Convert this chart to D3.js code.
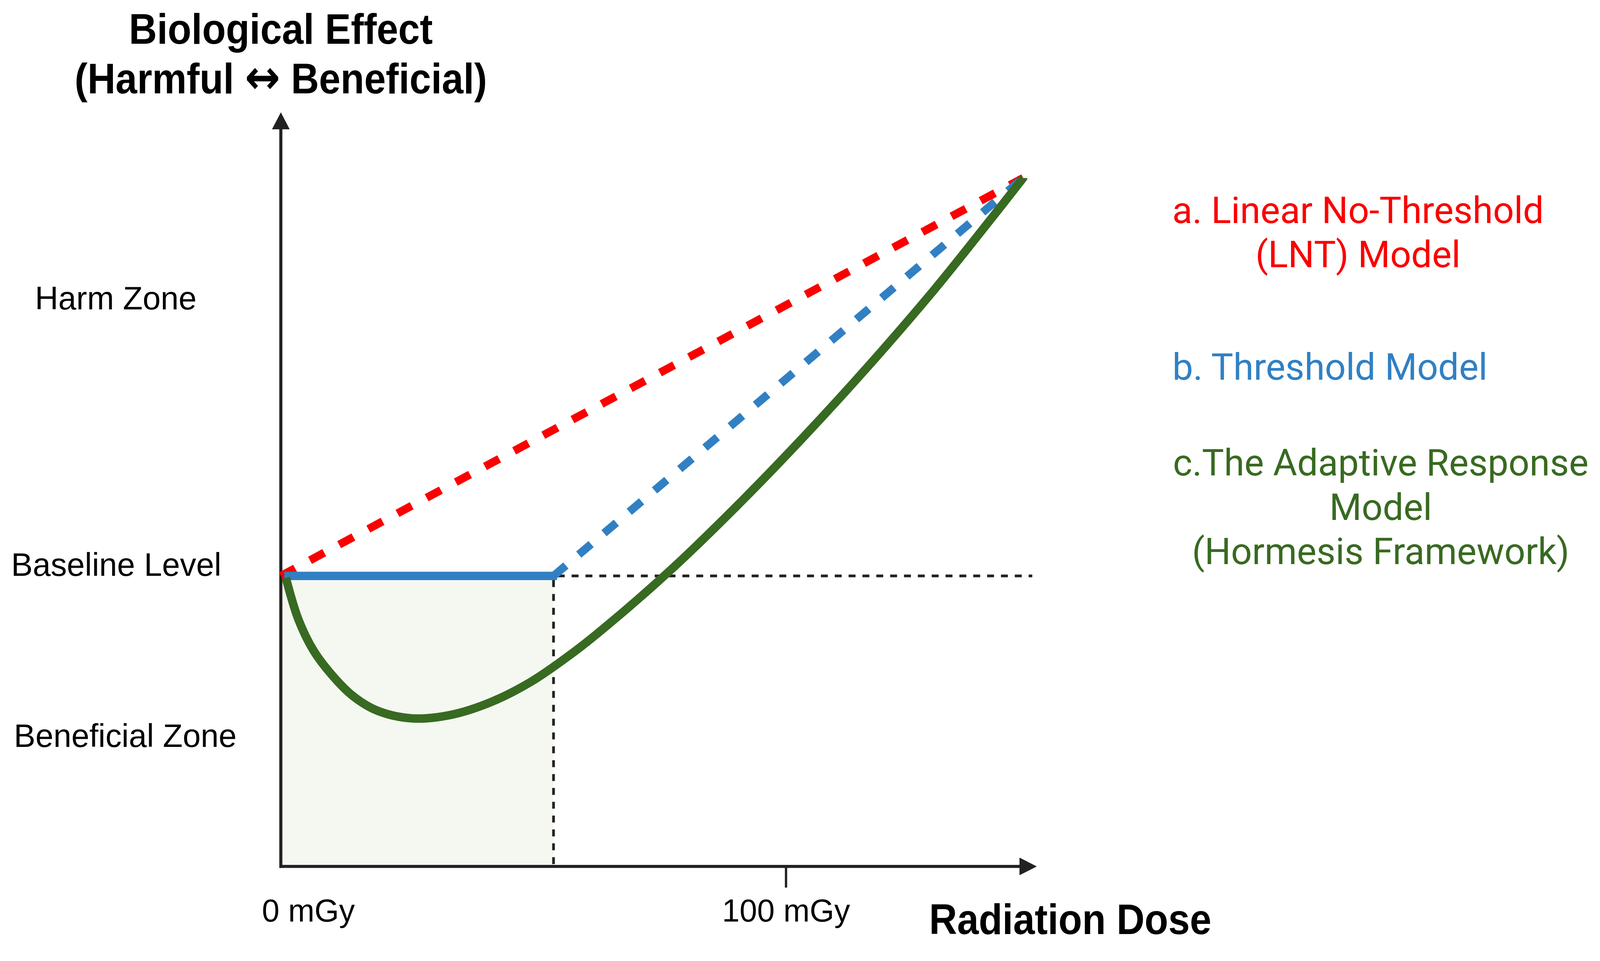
<!DOCTYPE html>
<html>
<head>
<meta charset="utf-8">
<script src="https://cdn.jsdelivr.net/npm/d3@7"></script>
<style>
  html, body { margin: 0; padding: 0; background: #fff; width: 100%; height: 100%; overflow: hidden; }
  svg { display: block; width: 100vw; height: 100vh; }
</style>
</head>
<body>
<svg viewBox="0 0 4159 2460" preserveAspectRatio="xMidYMin meet"></svg>
<script>
// dose-response models, dose in mGy, effect in arbitrary units (0 = baseline, 100 = meeting point)
var lntDose = [0, 147];
var lntEffect = [0, 100];

var thresholdDose = [0, 54, 147];
var thresholdEffect = [0, 0, 100];

var hormesisDose = [1, 3.5, 6.5, 10.4, 14.3, 19, 26, 33.7, 41.6, 49.4, 57.1, 64.1, 77.2, 90.4, 103.5, 116.6, 129.7, 142.8, 147];
var hormesisEffect = [-0.5, -11, -18.8, -25.3, -30.2, -33.8, -35.8, -34.9, -31.7, -26.7, -20, -13, 1.5, 17.7, 34.9, 53.1, 72.4, 93.2, 100];

var tickDoses = [0, 100];
var tickLabels = ['0 mGy', '100 mGy'];

var zoneLabels = ['Harm Zone', 'Baseline Level', 'Beneficial Zone'];
var zoneEffects = [67, 0, -43];

var legendLines = [
	['a. Linear No-Threshold', '(LNT) Model'],
	['b. Threshold Model'],
	['c.The Adaptive Response', 'Model', '(Hormesis Framework)']
];
var legendColors = ['#fa0000', '#3180c3', '#386a21'];

function main() {
	var svg = d3.select('svg');

	var x = d3.scaleLinear().domain([0, 150]).range([730, 2699]);
	var y = d3.scaleLinear().domain([-73, 116.5]).range([2252, 292]);

	var line = d3.line()
		.x(function(d){ return x(d[0]); })
		.y(function(d){ return y(d[1]); });
	var smooth = d3.line()
		.curve(d3.curveCatmullRom.alpha(0.5))
		.x(function(d){ return x(d[0]); })
		.y(function(d){ return y(d[1]); });

	var lnt = d3.zip(lntDose, lntEffect);
	var thr = d3.zip(thresholdDose, thresholdEffect);
	var horm = d3.zip(hormesisDose, hormesisEffect);

	var thresholdX = thresholdDose[1];

	// shaded low-dose region
	svg.append('rect')
		.attr('x', x(0) + 4)
		.attr('y', y(0))
		.attr('width', x(thresholdX) - x(0) - 4)
		.attr('height', y.range()[0] - y(0))
		.attr('fill', '#f4f8f0');

	// reference dashes: threshold and baseline
	svg.append('line')
		.attr('x1', x(thresholdX)).attr('x2', x(thresholdX))
		.attr('y1', y(0) + 11).attr('y2', y.range()[0])
		.attr('stroke', '#222').attr('stroke-width', 7)
		.attr('stroke-dasharray', '18,18');
	svg.append('line')
		.attr('x1', x(thresholdX) + 11).attr('x2', x(148.8))
		.attr('y1', y(0)).attr('y2', y(0))
		.attr('stroke', '#222').attr('stroke-width', 7)
		.attr('stroke-dasharray', '18,18');

	// axes
	var x0 = x(0), yBase = y.range()[0], yTop = y.range()[1], xEnd = x.range()[1] - 4;
	svg.append('line')
		.attr('x1', x0).attr('x2', x0)
		.attr('y1', yBase + 4).attr('y2', yTop + 40)
		.attr('stroke', '#222').attr('stroke-width', 8);
	svg.append('path')
		.attr('d', 'M' + x0 + ',' + yTop + 'L' + (x0 - 23) + ',' + (yTop + 44) + 'L' + (x0 + 23) + ',' + (yTop + 44) + 'Z')
		.attr('fill', '#222');
	svg.append('line')
		.attr('x1', x0 - 4).attr('x2', xEnd - 40)
		.attr('y1', yBase).attr('y2', yBase)
		.attr('stroke', '#222').attr('stroke-width', 8);
	svg.append('path')
		.attr('d', 'M' + xEnd + ',' + yBase + 'L' + (xEnd - 45) + ',' + (yBase - 23) + 'L' + (xEnd - 45) + ',' + (yBase + 23) + 'Z')
		.attr('fill', '#222');

	var xAxis = d3.axisBottom(x)
		.tickValues(tickDoses)
		.tickSize(55)
		.tickPadding(30)
		.tickFormat(function(d, i){ return tickLabels[i]; });
	var ax = svg.append('g')
		.attr('transform', 'translate(0,' + yBase + ')')
		.call(xAxis);
	ax.select('.domain').remove();
	ax.selectAll('.tick line').attr('stroke', '#222').attr('stroke-width', 6)
		.attr('display', function(d){ return d === 0 ? 'none' : null; });
	ax.selectAll('.tick text')
		.attr('fill', '#000')
		.attr('font-family', '"Liberation Sans", Arial, sans-serif')
		.attr('font-size', 82)
		.attr('dx', function(d){ return d === 0 ? 71 : 0; });

	// model curves
	svg.append('path')
		.attr('d', line(lnt))
		.attr('fill', 'none').attr('stroke', legendColors[0])
		.attr('stroke-width', 21).attr('stroke-dasharray', '42,44');
	svg.append('path')
		.attr('d', line(thr.slice(0, 2)))
		.attr('transform', 'translate(9,0)')
		.attr('fill', 'none').attr('stroke', legendColors[1])
		.attr('stroke-width', 22);
	svg.append('path')
		.attr('d', line(thr.slice(1)))
		.attr('fill', 'none').attr('stroke', legendColors[1])
		.attr('stroke-width', 21).attr('stroke-dasharray', '42,44');
	svg.append('path')
		.attr('d', smooth(horm))
		.attr('fill', 'none').attr('stroke', legendColors[2])
		.attr('stroke-width', 22);

	// zone labels on the left
	var zoneX = [91, 29, 36];
	svg.selectAll('.zone')
		.data(zoneLabels)
		.enter().append('text')
		.attr('class', 'zone')
		.attr('x', function(d, i){ return zoneX[i]; })
		.attr('y', function(d, i){ return y(zoneEffects[i]); })
		.attr('font-family', '"Liberation Sans", Arial, sans-serif')
		.attr('font-size', 84)
		.text(function(d){ return d; });

	// axis titles (bold, slightly condensed)
	var title = svg.append('g')
		.attr('transform', 'translate(' + x0 + ',0) scale(0.9,1)')
		.append('text')
		.attr('text-anchor', 'middle')
		.attr('font-family', '"Liberation Sans", Arial, sans-serif')
		.attr('font-weight', 'bold')
		.attr('font-size', 112);
	title.append('tspan').attr('x', 0).attr('y', 114).text('Biological Effect');
	var l2 = title.append('tspan').attr('x', 0).attr('y', 243);
	l2.append('tspan').text('(Harmful ');
	l2.append('tspan').attr('font-family', '"DejaVu Sans", sans-serif').attr('font-size', 122).text('\u2194');
	l2.append('tspan').text(' Beneficial)');

	svg.append('g')
		.attr('transform', 'translate(2782,0) scale(0.9,1)')
		.append('text')
		.attr('x', 0).attr('y', 2428)
		.attr('text-anchor', 'middle')
		.attr('font-family', '"Liberation Sans", Arial, sans-serif')
		.attr('font-weight', 'bold')
		.attr('font-size', 112)
		.text('Radiation Dose');

	// legend on the right
	var legendCx = [3530, 3457, 3589];
	var legendY = [580, 987, 1236];
	legendLines.forEach(function(lines, i){
		var t = svg.append('text')
			.attr('text-anchor', 'middle')
			.attr('font-family', 'Roboto, sans-serif')
			.attr('font-size', 96)
			.attr('fill', legendColors[i]);
		lines.forEach(function(s, j){
			t.append('tspan')
				.attr('x', legendCx[i])
				.attr('y', legendY[i] + j * 115)
				.text(s);
		});
	});
}
main();
</script>
</body>
</html>
